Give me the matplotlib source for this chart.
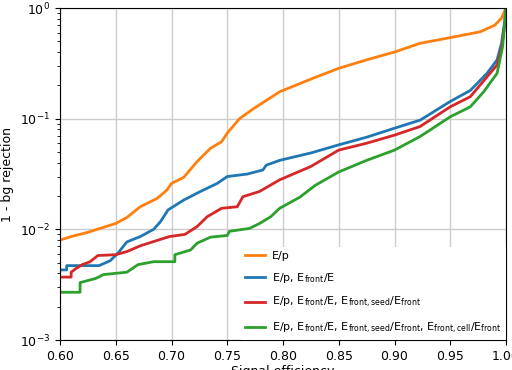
import matplotlib

matplotlib.use("Agg")
import matplotlib.pyplot as plt

# signal efficiency / background pass rate
ep_x = [0.600, 0.610, 0.625, 0.640, 0.650, 0.660, 0.672, 0.687, 0.696, 0.700,
        0.711, 0.723, 0.735, 0.745, 0.750, 0.761, 0.774, 0.797, 0.827, 0.850,
        0.875, 0.900, 0.923, 0.950, 0.977, 0.990, 0.996, 1.000]
ep_y = [0.0080, 0.0086, 0.0094, 0.0105, 0.0113, 0.0128, 0.0160, 0.0190, 0.0227, 0.0260,
        0.0295, 0.0410, 0.0540, 0.0620, 0.0740, 0.1000, 0.1240, 0.1750, 0.2320, 0.2850,
        0.3400, 0.4000, 0.4800, 0.5400, 0.6100, 0.7000, 0.8100, 1.0000]

front_x = [0.600, 0.606, 0.606, 0.635, 0.645, 0.652, 0.660, 0.672, 0.684, 0.690,
           0.697, 0.711, 0.726, 0.741, 0.750, 0.768, 0.782, 0.785, 0.797, 0.825,
           0.850, 0.875, 0.900, 0.923, 0.950, 0.968, 0.983, 0.992, 0.996, 0.999, 1.000]
front_y = [0.0043, 0.0043, 0.0047, 0.0047, 0.0052, 0.0061, 0.0077, 0.0086, 0.0100, 0.0117,
           0.0150, 0.0184, 0.0220, 0.0260, 0.0300, 0.0316, 0.0344, 0.0380, 0.0420, 0.0490,
           0.0580, 0.0680, 0.0820, 0.0970, 0.1430, 0.1800, 0.2570, 0.3400, 0.4800, 0.7800, 1.0000]

seed_x = [0.600, 0.610, 0.610, 0.614, 0.620, 0.627, 0.634, 0.650, 0.660, 0.672,
          0.698, 0.712, 0.723, 0.732, 0.745, 0.759, 0.764, 0.779, 0.797, 0.825,
          0.850, 0.875, 0.900, 0.923, 0.950, 0.968, 0.980, 0.992, 0.996, 0.999, 1.000]
seed_y = [0.0037, 0.0037, 0.0041, 0.0044, 0.0048, 0.0051, 0.0058, 0.0059, 0.0063, 0.0071,
          0.0086, 0.0090, 0.0106, 0.0130, 0.0155, 0.0160, 0.0197, 0.0220, 0.0280, 0.0370,
          0.0520, 0.0600, 0.0710, 0.0850, 0.1280, 0.1580, 0.2200, 0.3060, 0.4300, 0.7200, 1.0000]

cell_x = [0.600, 0.618, 0.618, 0.632, 0.639, 0.660, 0.670, 0.684, 0.703, 0.703,
          0.717, 0.723, 0.735, 0.750, 0.752, 0.770, 0.779, 0.789, 0.797, 0.815,
          0.829, 0.850, 0.875, 0.900, 0.923, 0.950, 0.968, 0.980, 0.992, 0.997, 0.999, 1.000]
cell_y = [0.0027, 0.0027, 0.0033, 0.0036, 0.0039, 0.0041, 0.0048, 0.0051, 0.0051, 0.0059,
          0.0065, 0.0075, 0.0085, 0.0088, 0.0096, 0.0102, 0.0113, 0.0130, 0.0155, 0.0195,
          0.0250, 0.0330, 0.0420, 0.0520, 0.0690, 0.1040, 0.1280, 0.1750, 0.2570, 0.4500, 0.7800, 1.0000]

labels = [
    "E/p",
    r"E/p, E$_{\mathrm{front}}$/E",
    r"E/p, E$_{\mathrm{front}}$/E, E$_{\mathrm{front,seed}}$/E$_{\mathrm{front}}$",
    r"E/p, E$_{\mathrm{front}}$/E, E$_{\mathrm{front,seed}}$/E$_{\mathrm{front}}$, "
    r"E$_{\mathrm{front,cell}}$/E$_{\mathrm{front}}$",
]
colors = ["#ff7f0e", "#1f77b4", "#d62728", "#2ca02c"]

plt.rcParams["mathtext.default"] = "regular"
fig = plt.figure(figsize=(5.12, 3.70), dpi=100)
ax = fig.add_axes([60 / 512, 30 / 370, 446 / 512, 332 / 370])

series = [(ep_x, ep_y), (front_x, front_y), (seed_x, seed_y), (cell_x, cell_y)]
for (x, y), lab, c in zip(series, labels, colors):
    ax.plot(x, y, color=c, lw=2, label=lab)

ax.set_yscale("log")
ax.set_xlim(0.6, 1.0)
ax.set_ylim(1e-3, 1)
ax.set_xticks([0.60, 0.65, 0.70, 0.75, 0.80, 0.85, 0.90, 0.95, 1.00])
ax.set_xticklabels(["0.60", "0.65", "0.70", "0.75", "0.80", "0.85", "0.90", "0.95", "1.00"])
ax.tick_params(labelsize=9)
ax.grid(True, which="major", color="#cccccc", lw=1)
ax.set_xlabel("Signal efficiency", fontsize=9, labelpad=2)
ax.set_ylabel("1 - bg rejection", fontsize=9)

leg = ax.legend(loc="lower right", fontsize=8, labelspacing=0.9, handlelength=1.8,
                handletextpad=0.6, frameon=True, fancybox=False, framealpha=1,
                borderaxespad=0.0)
leg.get_frame().set_edgecolor("none")

fig.savefig("out.png", dpi=100)
